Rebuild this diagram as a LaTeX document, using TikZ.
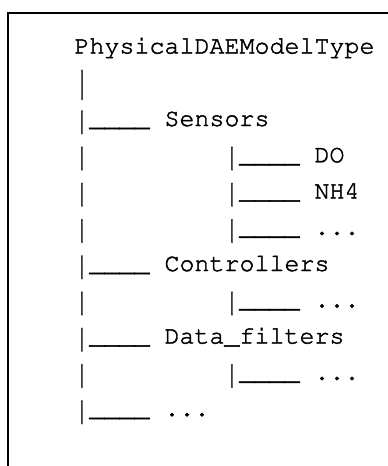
\documentclass[tikz,border=0pt]{standalone}
\usepackage[T1]{fontenc}
\usepackage{graphicx}
% taller vertical bars: #1 = vertical scale, #2 = shift
\newcommand\tbar[2]{\raisebox{#2}{\scalebox{1}[#1]{|}}}
\newcommand\vb{\tbar{1.3}{-4pt}}
\begin{document}
\begin{tikzpicture}[x=1pt,y=-1pt,
  % Courier, with glyph outlines filled and stroked for a slightly heavier weight
  row/.style={anchor=base west,inner sep=0pt,outer sep=0pt,
    font=\fontencoding{T1}\fontfamily{pcr}\fontsize{25}{30}\selectfont,text=black,
    execute at begin node=\special{pdf:literal direct 2 Tr 0.45 w},
    execute at end node=\special{pdf:literal direct 0 Tr}}]
\useasboundingbox (0,0) rectangle (388,466);
% frame: only the top and left edges lie inside the page
\draw[line width=2.6pt,line cap=rect] (8,466) -- (8,13) -- (390,13);
% column grid: 15pt per character, first column starts at 74.5
\def\colA{74.5}
\def\colB{224.5}
\node[row] (root) at (\colA,53.5) {PhysicalDAEModelType};
\node[row] (trunk) at (\colA,89.75) {\tbar{1.65}{-5pt}};
\node[row] (sensors) at (\colA,126) {\vb\_\_\_\_ Sensors};
\node[row] (p4) at (\colA,162.25) {\vb};
\node[row] (do) at (\colB,162.25) {\vb\_\_\_\_ DO};
\node[row] (p5) at (\colA,198.5) {\vb};
\node[row] (nh4) at (\colB,198.5) {\vb\_\_\_\_ NH4};
\node[row] (p6) at (\colA,234.75) {\vb};
\node[row] (smore) at (\colB,234.75) {\vb\_\_\_\_ ...};
\node[row] (controllers) at (\colA,271) {\vb\_\_\_\_ Controllers};
\node[row] (p8) at (\colA,307.25) {\vb};
\node[row] (cmore) at (\colB,307.25) {\vb\_\_\_\_ ...};
\node[row] (filters) at (\colA,343.5) {\vb\_\_\_\_ Data\_filters};
\node[row] (p10) at (\colA,379.75) {\vb};
\node[row] (fmore) at (\colB,379.75) {\vb\_\_\_\_ ...};
\node[row] (more) at (\colA,416) {\vb\_\_\_\_ ...};
\end{tikzpicture}
\end{document}
